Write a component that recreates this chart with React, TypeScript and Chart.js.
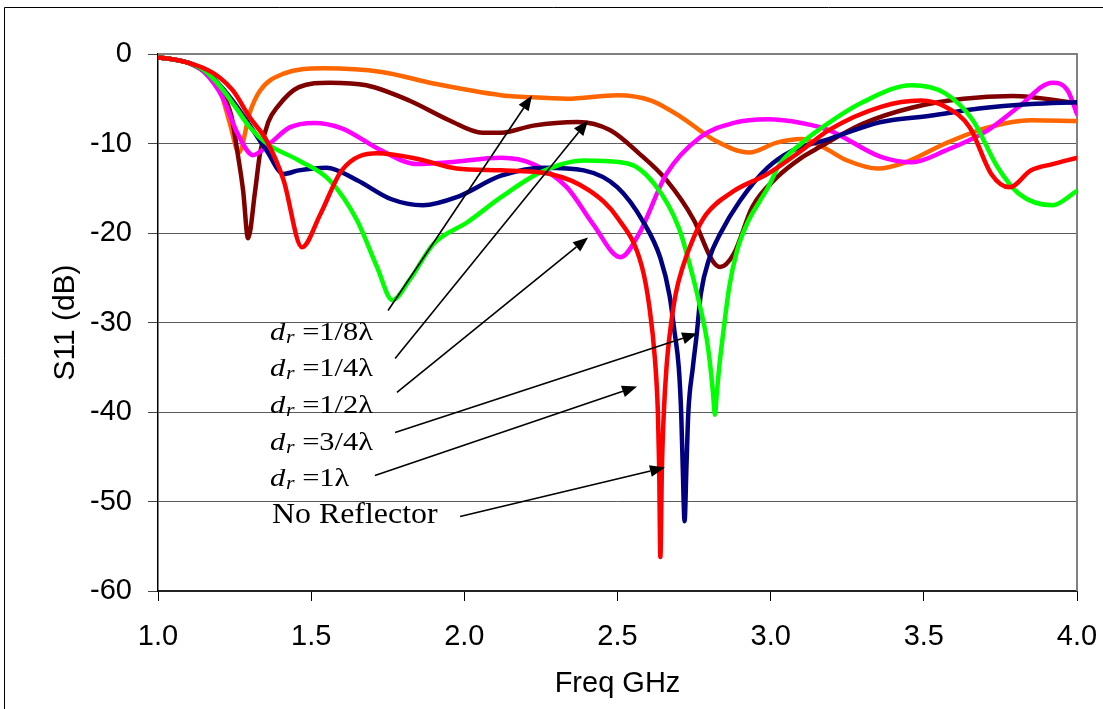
import React, { useEffect, useRef } from "react";
import { Chart, registerables } from "chart.js";

Chart.register(...registerables);

// ---- Data (frequency in GHz, S11 in dB) ----
const freqOrange = [1.0, 1.05, 1.1, 1.15, 1.2, 1.235, 1.264, 1.3, 1.333, 1.41, 1.54, 1.73, 1.9, 2.12, 2.2, 2.335, 2.5, 2.61, 2.71, 2.82, 2.93, 3.02, 3.1, 3.17, 3.25, 3.35, 3.44, 3.57, 3.71, 3.85, 4.0];
const s11Orange = [-0.4, -0.6, -1.0, -1.9, -3.8, -7.8, -11.0, -6.5, -4.1, -2.2, -1.6, -2.0, -3.3, -4.6, -4.8, -5.0, -4.6, -5.2, -7.1, -9.7, -11.0, -9.9, -9.5, -10.4, -11.9, -12.8, -12.1, -10.0, -8.2, -7.4, -7.5];

const freqBrown = [1.0, 1.05, 1.1, 1.15, 1.2, 1.24, 1.26, 1.278, 1.294, 1.317, 1.333, 1.36, 1.39, 1.46, 1.56, 1.68, 1.82, 1.95, 2.06, 2.12, 2.225, 2.37, 2.475, 2.57, 2.66, 2.75, 2.81, 2.835, 2.88, 2.94, 3.02, 3.1, 3.16, 3.3, 3.46, 3.63, 3.79, 4.0];
const s11Brown = [-0.4, -0.6, -1.0, -1.9, -3.8, -7.0, -11.1, -15.3, -20.6, -15.3, -11.1, -7.6, -5.9, -3.7, -3.2, -3.5, -5.2, -7.4, -8.8, -8.8, -8.0, -7.6, -8.5, -11.1, -14.1, -18.6, -23.1, -23.8, -22.3, -17.1, -13.8, -11.6, -10.4, -7.8, -6.0, -5.0, -4.7, -5.5];

const freqMagenta = [1.0, 1.05, 1.1, 1.15, 1.21, 1.26, 1.31, 1.365, 1.43, 1.51, 1.6, 1.73, 1.845, 1.95, 2.12, 2.225, 2.335, 2.42, 2.51, 2.57, 2.66, 2.77, 2.88, 2.99, 3.1, 3.19, 3.36, 3.46, 3.57, 3.71, 3.81, 3.92, 3.97, 4.0];
const s11Magenta = [-0.4, -0.6, -1.0, -2.0, -4.8, -8.9, -11.3, -10.0, -8.2, -7.7, -8.3, -10.8, -12.3, -12.1, -11.6, -12.3, -14.9, -19.0, -22.7, -20.1, -13.4, -9.3, -7.7, -7.3, -7.7, -8.5, -11.5, -12.1, -10.8, -8.5, -5.9, -3.2, -4.1, -6.7];

const freqNavy = [1.0, 1.05, 1.1, 1.15, 1.2, 1.25, 1.3, 1.355, 1.41, 1.46, 1.55, 1.65, 1.76, 1.865, 1.975, 2.12, 2.26, 2.39, 2.5, 2.585, 2.64, 2.67, 2.686, 2.7, 2.708, 2.713, 2.719, 2.725, 2.731, 2.746, 2.759, 2.772, 2.8, 2.835, 2.9, 2.99, 3.07, 3.19, 3.36, 3.52, 3.68, 3.85, 4.0];
const s11Navy = [-0.4, -0.6, -1.0, -1.8, -3.4, -5.5, -8.0, -10.8, -13.4, -13.0, -12.7, -14.1, -16.2, -16.9, -16.0, -13.6, -12.7, -13.0, -14.9, -18.8, -22.8, -27.0, -31.0, -35.0, -40.2, -46.2, -52.2, -46.2, -40.2, -35.0, -31.2, -26.8, -22.8, -20.1, -16.4, -12.7, -10.8, -9.5, -7.6, -6.9, -6.1, -5.6, -5.4];

const freqGreen = [1.0, 1.05, 1.1, 1.15, 1.2, 1.25, 1.3, 1.355, 1.46, 1.56, 1.65, 1.715, 1.765, 1.82, 1.9, 2.01, 2.12, 2.25, 2.39, 2.53, 2.62, 2.7, 2.747, 2.77, 2.792, 2.805, 2.812, 2.818, 2.824, 2.832, 2.845, 2.865, 2.89, 2.925, 2.965, 2.99, 3.03, 3.1, 3.14, 3.3, 3.46, 3.57, 3.66, 3.74, 3.81, 3.92, 4.0];
const s11Green = [-0.4, -0.6, -1.0, -1.8, -3.5, -5.8, -8.2, -10.0, -11.9, -14.1, -18.6, -23.8, -27.5, -25.3, -21.2, -18.8, -16.0, -13.2, -11.9, -12.2, -14.5, -19.4, -25.0, -28.3, -32.0, -35.5, -38.0, -40.3, -38.0, -35.0, -31.2, -26.0, -22.0, -18.8, -16.4, -15.0, -12.3, -10.0, -8.9, -5.4, -3.5, -4.4, -7.4, -12.6, -15.6, -16.9, -15.3];

const freqRed = [1.0, 1.05, 1.1, 1.15, 1.2, 1.245, 1.3, 1.355, 1.41, 1.47, 1.53, 1.6, 1.715, 1.845, 1.975, 2.12, 2.28, 2.41, 2.5, 2.58, 2.605, 2.622, 2.632, 2.636, 2.64, 2.645, 2.651, 2.66, 2.671, 2.69, 2.713, 2.75, 2.79, 2.88, 2.99, 3.1, 3.19, 3.36, 3.49, 3.57, 3.65, 3.72, 3.78, 3.85, 3.92, 4.0];
const s11Red = [-0.4, -0.6, -1.0, -1.6, -2.6, -4.1, -7.1, -9.7, -14.1, -21.6, -17.9, -13.0, -11.1, -11.7, -12.8, -13.0, -13.4, -15.3, -18.3, -23.8, -28.5, -34.0, -40.2, -46.2, -56.2, -46.2, -40.2, -35.0, -31.2, -26.8, -23.8, -20.4, -17.9, -15.3, -13.4, -10.8, -8.5, -5.9, -5.2, -5.9, -8.2, -13.4, -14.9, -13.0, -12.3, -11.6];

const xTicks = [1.0, 1.5, 2.0, 2.5, 3.0, 3.5, 4.0];
const yTicks = [0, -10, -20, -30, -40, -50, -60];

// Annotation labels (fractions of wavelength) and arrow geometry in data units
const labelFractions = ["1/8", "1/4", "1/2", "3/4", "1"];
const noReflectorLabel = "No Reflector";
const labelFreq = [1.366, 1.366, 1.366, 1.366, 1.366, 1.372];
const labelDb = [-31.96, -36.03, -40.11, -44.19, -48.32, -52.4];
const arrowStartFreq = [1.751, 1.774, 1.78, 1.774, 1.708, 1.986];
const arrowStartDb = [-28.66, -34.02, -37.82, -42.29, -47.09, -51.67];
const arrowEndFreq = [2.221, 2.404, 2.404, 2.76, 2.564, 2.655];
const arrowEndDb = [-4.64, -7.43, -20.5, -31.23, -37.15, -46.2];

const AXIS_FONT = '"Liberation Sans", Arial, sans-serif';
const SERIF = '"Liberation Serif", "Times New Roman", serif';

const pts = (xs: number[], ys: number[]) => xs.map((x, i) => ({ x, y: ys[i] }));

const series = [
  { label: "dr=1/8λ", xs: freqOrange, ys: s11Orange, color: "#FF6600", order: 6 },
  { label: "dr=1/4λ", xs: freqBrown, ys: s11Brown, color: "#800000", order: 5 },
  { label: "dr=1/2λ", xs: freqMagenta, ys: s11Magenta, color: "#FF00FF", order: 4 },
  { label: "dr=3/4λ", xs: freqNavy, ys: s11Navy, color: "#000080", order: 3 },
  { label: "dr=1λ", xs: freqGreen, ys: s11Green, color: "#00FF00", order: 2 },
  { label: "No Reflector", xs: freqRed, ys: s11Red, color: "#FF0000", order: 1 },
];

const framePlugin = {
  id: "frame",
  beforeDraw(chart: any) {
    const ctx = chart.ctx;
    ctx.save();
    ctx.fillStyle = "#ffffff";
    ctx.fillRect(0, 0, chart.width, chart.height);
    ctx.strokeStyle = "#000";
    ctx.lineWidth = 1;
    ctx.beginPath();
    ctx.moveTo(4.5, chart.height);
    ctx.lineTo(4.5, 7.5);
    ctx.lineTo(chart.width, 7.5);
    ctx.stroke();
    ctx.restore();
  },
  beforeDatasetsDraw(chart: any) {
    const { ctx, chartArea } = chart;
    ctx.save();
    ctx.strokeStyle = "#808080";
    ctx.lineWidth = 2;
    ctx.beginPath();
    ctx.moveTo(chartArea.left, chartArea.top);
    ctx.lineTo(chartArea.right, chartArea.top);
    ctx.lineTo(chartArea.right, chartArea.bottom);
    ctx.stroke();
    ctx.restore();
  },
  afterDatasetsDraw(chart: any) {
    const { ctx } = chart;
    const xs = chart.scales.x;
    const ys = chart.scales.y;
    ctx.save();
    // arrows
    for (let i = 0; i < arrowStartFreq.length; i++) {
      const x0 = xs.getPixelForValue(arrowStartFreq[i]);
      const y0 = ys.getPixelForValue(arrowStartDb[i]);
      const x1 = xs.getPixelForValue(arrowEndFreq[i]);
      const y1 = ys.getPixelForValue(arrowEndDb[i]);
      const ang = Math.atan2(y1 - y0, x1 - x0);
      const L = 15, W = 6;
      const bx = x1 - L * Math.cos(ang);
      const by = y1 - L * Math.sin(ang);
      ctx.strokeStyle = "#000";
      ctx.lineWidth = 1.6;
      ctx.beginPath();
      ctx.moveTo(x0, y0);
      ctx.lineTo(bx, by);
      ctx.stroke();
      ctx.fillStyle = "#000";
      ctx.beginPath();
      ctx.moveTo(x1, y1);
      ctx.lineTo(bx + W * Math.sin(ang), by - W * Math.cos(ang));
      ctx.lineTo(bx - W * Math.sin(ang), by + W * Math.cos(ang));
      ctx.closePath();
      ctx.fill();
    }
    // labels
    ctx.fillStyle = "#000";
    ctx.textBaseline = "alphabetic";
    ctx.textAlign = "left";
    for (let i = 0; i < labelFractions.length; i++) {
      const x = xs.getPixelForValue(labelFreq[i]);
      const y = ys.getPixelForValue(labelDb[i]);
      ctx.save();
      ctx.translate(x, y);
      ctx.scale(1.22, 1);
      ctx.font = `italic 25px ${SERIF}`;
      ctx.fillText("d", 0, 0);
      let w = ctx.measureText("d").width;
      ctx.font = `italic 18px ${SERIF}`;
      ctx.fillText("r", w + 0.5, 3);
      w += 0.5 + ctx.measureText("r").width;
      ctx.font = `25px ${SERIF}`;
      ctx.fillText(" =" + labelFractions[i] + "λ", w, 0);
      ctx.restore();
    }
    {
      const i = labelFractions.length;
      const x = xs.getPixelForValue(labelFreq[i]);
      const y = ys.getPixelForValue(labelDb[i]);
      ctx.save();
      ctx.translate(x, y);
      ctx.scale(1.1, 1);
      ctx.font = `29px ${SERIF}`;
      ctx.fillText(noReflectorLabel, 0, 0);
      ctx.restore();
    }
    ctx.restore();
  },
};

export default function App() {
  const ref = useRef<HTMLCanvasElement | null>(null);
  useEffect(() => {
    if (!ref.current) return;
    const chart = new Chart(ref.current, {
      type: "line",
      data: {
        datasets: series.map((s) => ({
          label: s.label,
          data: pts(s.xs, s.ys),
          borderColor: s.color,
          backgroundColor: s.color,
          borderWidth: 4.5,
          pointRadius: 0,
          fill: false,
          cubicInterpolationMode: "monotone" as const,
          borderJoinStyle: "round" as const,
          borderCapStyle: "round" as const,
          order: s.order,
        })),
      },
      options: {
        animation: false,
        responsive: false,
        devicePixelRatio: 1,
        layout: { padding: { left: 36, top: 54, right: 26, bottom: 0 } },
        plugins: { legend: { display: false }, tooltip: { enabled: false }, title: { display: false } },
        scales: {
          x: {
            type: "linear",
            min: 1,
            max: 4,
            afterBuildTicks: (scale: any) => {
              scale.ticks = xTicks.map((v) => ({ value: v }));
            },
            afterFit: (scale: any) => {
              scale.height = 118;
              scale.paddingLeft = 0;
              scale.paddingRight = 0;
            },
            ticks: {
              color: "#000",
              font: { family: AXIS_FONT, size: 29, lineHeight: 1.2 },
              padding: 19,
              maxRotation: 0,
              autoSkip: false,
              callback: (v: any) => Number(v).toFixed(1),
            },
            grid: { drawOnChartArea: false, drawTicks: true, tickLength: 10, tickColor: "#000", lineWidth: 1 },
            border: { display: true, color: "#222", width: 2 },
            title: {
              display: true,
              text: "Freq GHz",
              color: "#000",
              font: { family: AXIS_FONT, size: 29, lineHeight: 1.2 },
              padding: { top: 0, bottom: 8 },
            },
          },
          y: {
            type: "linear",
            min: -60,
            max: 0,
            afterBuildTicks: (scale: any) => {
              scale.ticks = yTicks.map((v) => ({ value: v }));
            },
            afterFit: (scale: any) => {
              scale.width = 122;
            },
            ticks: {
              color: "#000",
              font: { family: AXIS_FONT, size: 29, lineHeight: 1.2 },
              padding: 16,
              autoSkip: false,
            },
            grid: { color: "#5a5a5a", lineWidth: 1, drawTicks: true, tickLength: 10, tickColor: "#444" },
            border: { display: true, color: "#000", width: 1.5 },
            title: {
              display: true,
              text: "S11 (dB)",
              color: "#000",
              font: { family: AXIS_FONT, size: 30, lineHeight: 1.2 },
              padding: { top: 12, bottom: 0 },
            },
          },
        },
      },
      plugins: [framePlugin],
    });
    return () => chart.destroy();
  }, []);
  return (
    <div style={{ position: "fixed", left: 0, top: 0, width: 1103, height: 709, background: "#fff" }}>
      <canvas ref={ref} width={1103} height={709} style={{ display: "block", width: 1103, height: 709 }} />
    </div>
  );
}
